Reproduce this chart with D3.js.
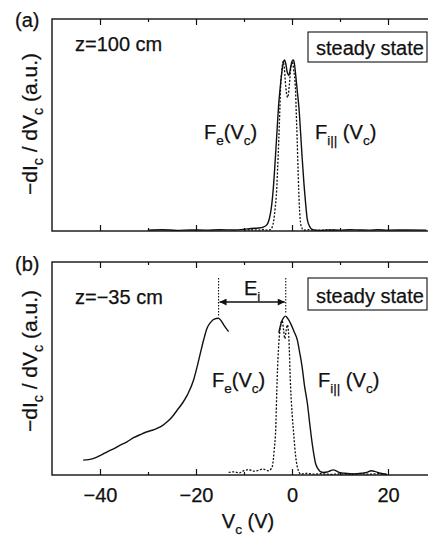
<!DOCTYPE html>
<html>
<head>
<meta charset="utf-8">
<script src="https://cdn.jsdelivr.net/npm/d3@7/dist/d3.min.js"></script>
<style>
  body { margin: 0; background: #fff; }
  svg { display: block; }
  text { font-family: "Liberation Sans", Arial, Helvetica, sans-serif; fill: #111; stroke: #111; stroke-width: 0.25; }
</style>
</head>
<body>
<svg id="chart" width="428" height="538"></svg>
<script>
// x axis (collector voltage, V)
const xDomain = [-50, 30];
const majorTicks = [-40, -20, 0, 20];
const minorTicks = [-30, -10, 10];

// (a) z=100 cm, solid = measured, dotted = F_i|| fit  [Vc, -dIc/dVc]
const aSolid = [
  [-30, 0.004], [-27, 0.006], [-24, 0.003], [-21, 0.005], [-18, 0.004], [-15, 0.006],
  [-12, 0.005], [-10, 0.008], [-8.5, 0.012], [-7, 0.014], [-6, 0.018], [-5.2, 0.03],
  [-4.7, 0.06], [-4.3, 0.11], [-3.9, 0.2], [-3.45, 0.35], [-3.1, 0.48], [-2.8, 0.59],
  [-2.4, 0.69], [-2.05, 0.76], [-1.75, 0.80], [-1.55, 0.807], [-1.3, 0.79], [-1.0, 0.75],
  [-0.65, 0.735], [-0.3, 0.77], [0.0, 0.80], [0.25, 0.807], [0.5, 0.79], [0.75, 0.74],
  [1.1, 0.66], [1.45, 0.58], [1.8, 0.46], [2.1, 0.35], [2.5, 0.22], [2.8, 0.14],
  [3.15, 0.06], [3.6, 0.025], [4.2, 0.008], [5, 0.004], [6, 0.003], [8, 0.005],
  [10, 0.004], [12, 0.006], [14, 0.005], [16, 0.004], [18, 0.006], [20, 0.004],
  [24, 0.005], [28, 0.004]
];
const aDotted = [
  [-10, 0.003], [-8.5, 0.006], [-7, 0.004], [-6, 0.007], [-5, 0.004], [-4.5, 0.006],
  [-4.1, 0.02], [-3.8, 0.05], [-3.5, 0.11], [-3.2, 0.19], [-2.95, 0.32], [-2.75, 0.43],
  [-2.55, 0.56], [-2.4, 0.665], [-2.15, 0.75], [-1.85, 0.80], [-1.6, 0.77], [-1.3, 0.68],
  [-0.9, 0.63], [-0.55, 0.69], [-0.25, 0.77], [0.04, 0.80], [0.35, 0.76], [0.73, 0.665],
  [0.9, 0.55], [1.08, 0.43], [1.25, 0.3], [1.4, 0.19], [1.6, 0.09], [1.77, 0.04],
  [2.1, 0.012], [2.5, 0.004], [3.5, 0.006], [5, 0.003], [7, 0.005], [9, 0.003]
];

// (b) z=-35 cm
const bElectron = [
  [-43.5, 0.070], [-42.4, 0.072], [-41.3, 0.078], [-39.9, 0.092], [-38.5, 0.109],
  [-37.1, 0.124], [-35.7, 0.141], [-34.3, 0.157], [-33.0, 0.175], [-31.6, 0.190],
  [-30.2, 0.203], [-29.1, 0.210], [-28.1, 0.219], [-27.0, 0.232], [-26.0, 0.250],
  [-24.9, 0.275], [-23.9, 0.305], [-22.8, 0.338], [-21.8, 0.376], [-20.5, 0.446],
  [-19.8, 0.505], [-19.1, 0.571], [-18.4, 0.635], [-17.7, 0.689], [-16.9, 0.718],
  [-16.3, 0.731], [-15.3, 0.736], [-14.7, 0.722], [-14.2, 0.704], [-13.2, 0.673]
];
const bIon = [
  [-2.75, 0.667], [-2.2, 0.718], [-1.7, 0.74], [-1.35, 0.746], [-0.9, 0.735],
  [-0.3, 0.712], [0.4, 0.675], [1.1, 0.634], [1.6, 0.575], [2.1, 0.509], [2.6, 0.42],
  [3.2, 0.337], [3.7, 0.24], [4.2, 0.149], [4.6, 0.09], [4.9, 0.055], [5.4, 0.03],
  [5.9, 0.016], [6.6, 0.012], [7.3, 0.014], [8.0, 0.02], [8.6, 0.024], [9.3, 0.018],
  [10, 0.011], [11, 0.008], [12.8, 0.005], [14.5, 0.008], [15.6, 0.012], [16.5, 0.02],
  [17.2, 0.017], [18.4, 0.008], [19.8, 0.002]
];
const bDotted = [
  [-13.2, 0.012], [-12, 0.015], [-11, 0.01], [-10, 0.02], [-9, 0.025], [-8, 0.018],
  [-7, 0.022], [-6, 0.028], [-5, 0.02], [-4.5, 0.025], [-4.1, 0.04], [-3.7, 0.12],
  [-3.4, 0.21], [-3.1, 0.446], [-2.75, 0.618], [-2.4, 0.696], [-2.05, 0.725], [-1.75, 0.68],
  [-1.5, 0.64], [-1.2, 0.68], [-0.95, 0.705], [-0.67, 0.649], [-0.3, 0.415], [0.05, 0.28],
  [0.4, 0.18], [0.75, 0.09], [1.1, 0.039], [1.8, 0.005], [3, 0.008], [4.5, 0.004],
  [6, 0.006], [8, 0.003], [10, 0.005], [12, 0.003], [14, 0.006], [16, 0.004], [18, 0.006],
  [20, 0.004]
];
// E_i annotation: the two peak positions (V) and heights
const eiPeaks = [[-15.3, 0.736], [-1.3, 0.746]];
const eiTop = 0.925;
const eiArrow = 0.812;

const svg = d3.select('#chart');
const fontSize = 20;

const x = d3.scaleLinear().domain(xDomain).range([52, 436]);

const panels = [
  { id: 'a', top: 19, bottom: 231, z: 'z=100 cm', zy: 51, boxTop: 32, boxBottom: 62, boxText: 55,
    labelY: 139, feX: 204, fiX: 315, tag: '(a)', tagY: 27, yLabelY: 124,
    solids: [aSolid], dotted: aDotted, tickLabels: false },
  { id: 'b', top: 262, bottom: 475, z: 'z=\u221235 cm', zy: 304, boxTop: 278, boxBottom: 310, boxText: 303,
    labelY: 387, feX: 212, fiX: 318, tag: '(b)', tagY: 271, yLabelY: 361,
    solids: [bElectron, bIon], dotted: bDotted, tickLabels: true }
];

// helper to write text with subscripts: parts = [[text, isSub], ...]
function richText(sel, parts, size) {
  let sub = false;
  parts.forEach(([t, s]) => {
    const span = sel.append('tspan').text(t);
    if (s && !sub) { span.attr('dy', size * 0.28).attr('font-size', size * 0.68); sub = true; }
    else if (s) { span.attr('font-size', size * 0.68); }
    else if (!s && sub) { span.attr('dy', -size * 0.28); sub = false; }
  });
  return sel;
}

panels.forEach((p) => {
  const y = d3.scaleLinear().domain([0, 1]).range([p.bottom, p.top]);
  const g = svg.append('g').attr('class', 'panel-' + p.id);

  // frame
  g.append('rect')
    .attr('x', x(xDomain[0])).attr('y', p.top)
    .attr('width', x(xDomain[1]) - x(xDomain[0])).attr('height', p.bottom - p.top)
    .attr('fill', 'none').attr('stroke', '#111').attr('stroke-width', 1.4);

  // ticks (inward), bottom and top
  const bottomMajor = d3.axisBottom(x).tickValues(majorTicks).tickSizeInner(-6).tickSizeOuter(0)
    .tickPadding(13).tickFormat(p.tickLabels ? null : () => '');
  const bottomMinor = d3.axisBottom(x).tickValues(minorTicks).tickSizeInner(-3).tickSizeOuter(0)
    .tickFormat(() => '');
  const topMajor = d3.axisTop(x).tickValues(majorTicks).tickSizeInner(-6).tickSizeOuter(0).tickFormat(() => '');
  const topMinor = d3.axisTop(x).tickValues(minorTicks).tickSizeInner(-3).tickSizeOuter(0).tickFormat(() => '');

  [[bottomMajor, p.bottom], [bottomMinor, p.bottom], [topMajor, p.top], [topMinor, p.top]].forEach(([ax, ty]) => {
    const a = g.append('g').attr('transform', `translate(0,${ty})`).call(ax);
    a.select('.domain').remove();
    a.selectAll('line').attr('stroke', '#111').attr('stroke-width', 1.2);
    a.selectAll('text').attr('font-size', fontSize).attr('fill', '#111')
      .attr('font-family', '"Liberation Sans", Arial, Helvetica, sans-serif');
  });

  const line = d3.line().x((d) => x(d[0])).y((d) => y(d[1])).curve(d3.curveMonotoneX);

  p.solids.forEach((s) => {
    g.append('path').datum(s).attr('d', line)
      .attr('fill', 'none').attr('stroke', '#111').attr('stroke-width', 1.4);
  });
  g.append('path').datum(p.dotted).attr('d', line)
    .attr('fill', 'none').attr('stroke', '#111').attr('stroke-width', 1.3)
    .attr('stroke-dasharray', '2,1.6');

  // panel tag and z position
  svg.append('text').attr('x', 15).attr('y', p.tagY).attr('font-size', fontSize).text(p.tag);
  g.append('text').attr('x', 75).attr('y', p.zy).attr('font-size', fontSize).text(p.z);

  // steady state box
  g.append('rect').attr('x', 308).attr('y', p.boxTop).attr('width', 119).attr('height', p.boxBottom - p.boxTop)
    .attr('fill', '#fff').attr('stroke', '#111').attr('stroke-width', 1.1);
  g.append('text').attr('x', 316).attr('y', p.boxText).attr('font-size', fontSize).text('steady state');

  // curve labels
  richText(g.append('text').attr('x', p.feX).attr('y', p.labelY).attr('font-size', fontSize),
    [['F', false], ['e', true], ['(V', false], ['c', true], [')', false]], fontSize);
  richText(g.append('text').attr('x', p.fiX).attr('y', p.labelY).attr('font-size', fontSize),
    [['F', false], ['i||', true], [' (V', false], ['c', true], [')', false]], fontSize);

  // y label
  richText(g.append('text').attr('transform', `translate(37,${p.yLabelY}) rotate(-90)`)
    .attr('text-anchor', 'middle').attr('font-size', 21),
    [['\u2212dI', false], ['c', true], [' / dV', false], ['c', true], ['  (a.u.)', false]], 21);

  if (p.id === 'b') {
    // E_i annotation
    eiPeaks.forEach(([v, h]) => {
      g.append('line').attr('x1', x(v)).attr('x2', x(v)).attr('y1', y(eiTop)).attr('y2', y(h) - 2)
        .attr('stroke', '#111').attr('stroke-width', 1.1).attr('stroke-dasharray', '1.5,1.5');
    });
    const defs = svg.append('defs');
    defs.append('marker').attr('id', 'arr').attr('viewBox', '0 0 10 10').attr('refX', 10).attr('refY', 5)
      .attr('markerWidth', 9).attr('markerHeight', 7).attr('markerUnits', 'userSpaceOnUse')
      .attr('orient', 'auto-start-reverse')
      .append('path').attr('d', 'M0,0L10,5L0,10z').attr('fill', '#111');
    g.append('line')
      .attr('x1', x(eiPeaks[0][0]) + 1).attr('x2', x(eiPeaks[1][0]) - 1)
      .attr('y1', y(eiArrow)).attr('y2', y(eiArrow))
      .attr('stroke', '#111').attr('stroke-width', 1.4)
      .attr('marker-start', 'url(#arr)').attr('marker-end', 'url(#arr)');
    richText(g.append('text').attr('x', (x(eiPeaks[0][0]) + x(eiPeaks[1][0])) / 2).attr('y', 295)
      .attr('text-anchor', 'middle').attr('font-size', fontSize),
      [['E', false], ['i', true]], fontSize);

    // x axis title
    richText(svg.append('text').attr('x', 248).attr('y', 528).attr('text-anchor', 'middle').attr('font-size', fontSize),
      [['V', false], ['c', true], ['  (V)', false]], fontSize);
  }
});
</script>
</body>
</html>
